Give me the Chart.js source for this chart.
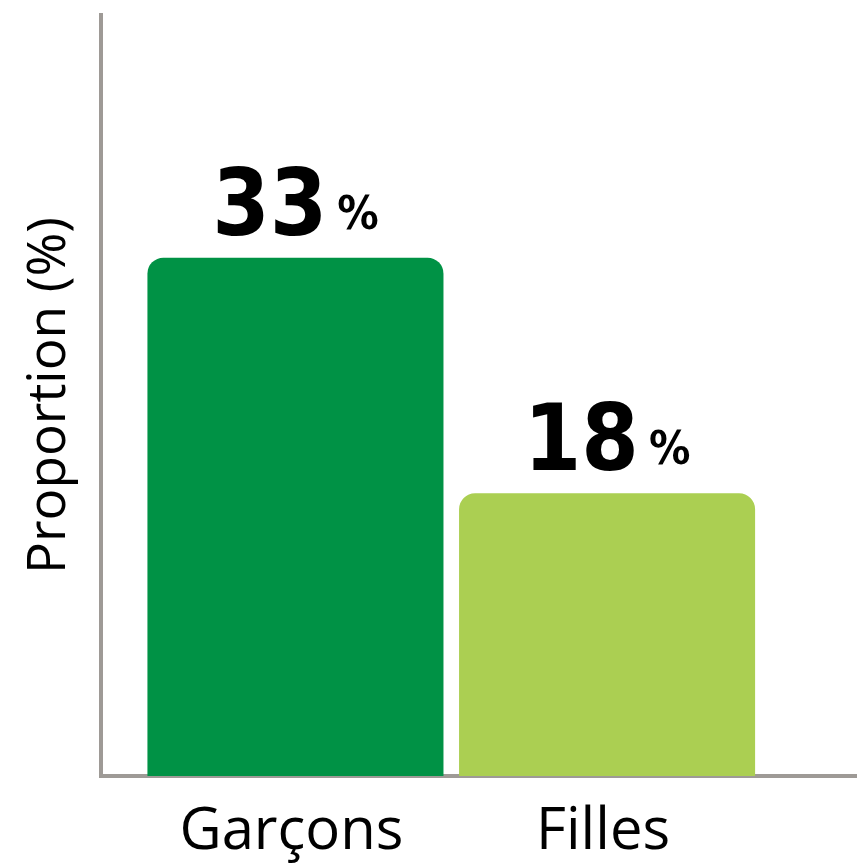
<!DOCTYPE html>
<html>
<head>
<meta charset="utf-8">
<script src="https://cdn.jsdelivr.net/npm/chart.js@4/dist/chart.umd.min.js"></script>
<style>
html,body{margin:0;padding:0;background:#fff;}
#wrap{width:857px;height:866px;position:relative;}
</style>
</head>
<body>
<div id="wrap"><canvas id="c" width="857" height="866"></canvas></div>
<script>
const categories = ['Garçons', 'Filles'];
const values = [33, 18];
const barColors = ['#009245', '#ABCF52'];
const yTitle = 'Proportion (%)';

const valueLabels = {
  id: 'valueLabels',
  afterDatasetsDraw(chart) {
    const ctx = chart.ctx;
    const meta = chart.getDatasetMeta(0);
    ctx.save();
    ctx.fillStyle = '#000';
    ctx.textBaseline = 'alphabetic';
    meta.data.forEach((bar, i) => {
      const num = String(values[i]);
      const bigFont = "bold 92px 'DejaVu Sans Condensed', 'DejaVu Sans', sans-serif";
      const smallFont = "bold 46px 'DejaVu Sans Condensed', 'DejaVu Sans', sans-serif";
      ctx.font = bigFont;
      const w1 = ctx.measureText(num).width;
      ctx.font = smallFont;
      const w2 = ctx.measureText('%').width;
      const gap = 10;
      const total = w1 + gap + w2;
      const x0 = bar.x - total / 2;
      const yb = bar.y - 23;
      ctx.font = bigFont;
      ctx.textAlign = 'left';
      ctx.fillText(num, x0, yb);
      ctx.font = smallFont;
      ctx.fillText('%', x0 + w1 + gap, yb - 6);
    });
    ctx.restore();
  }
};

new Chart(document.getElementById('c'), {
  type: 'bar',
  data: {
    datasets: [{
      data: values.map((v, i) => ({x: i, y: v})),
      backgroundColor: barColors,
      borderRadius: {topLeft: 16, topRight: 16, bottomLeft: 0, bottomRight: 0},
      borderSkipped: false,
      barPercentage: 0.95,
      categoryPercentage: 1.0
    }]
  },
  options: {
    responsive: false,
    animation: false,
    layout: {padding: {top: 15, right: 0, left: 0, bottom: 0}},
    plugins: {legend: {display: false}, tooltip: {enabled: false}},
    scales: {
      x: {
        type: 'linear',
        offset: false,
        min: -0.624,
        max: 1.802,
        afterBuildTicks(scale) {
          scale.ticks = categories.map((_, i) => ({value: i}));
        },
        afterFit(scale) { scale.height = 90; },
        grid: {display: false, drawTicks: false, offset: false},
        border: {display: true, color: '#9E9A96', width: 4},
        ticks: {
          color: '#000',
          font: {family: "'Open Sans'", size: 58},
          padding: 22,
          labelOffset: -4,
          maxRotation: 0,
          autoSkip: false,
          callback: (v) => categories[v] !== undefined ? categories[v] : ''
        }
      },
      y: {
        min: 0,
        max: 48.45,
        afterFit(scale) { scale.width = 101; },
        grid: {display: false, drawTicks: false},
        border: {display: true, color: '#9E9A96', width: 4},
        ticks: {display: false},
        title: {
          display: true,
          text: yTitle,
          color: '#000',
          font: {family: "'Open Sans'", size: 53},
          padding: {top: 18, bottom: 0}
        }
      }
    }
  },
  plugins: [valueLabels]
});
</script>
</body>
</html>
